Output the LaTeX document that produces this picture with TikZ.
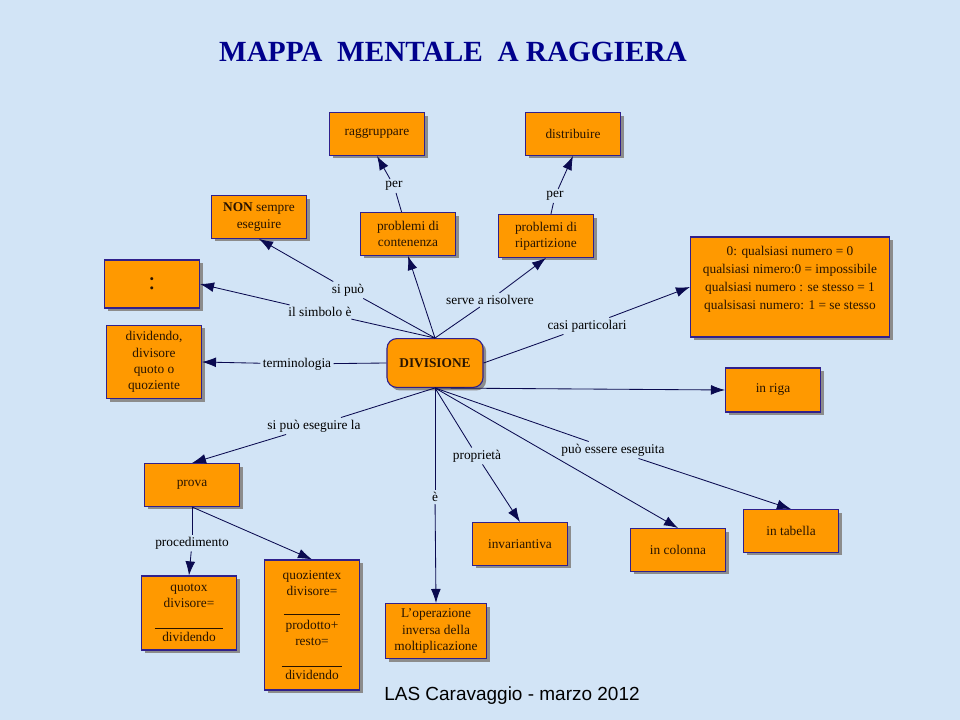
\documentclass[tikz,border=0pt]{standalone}
\usepackage{fontspec}
\setmainfont{Liberation Serif}
\newfontfamily\footfont{Liberation Sans}
\usetikzlibrary{arrows.meta, shadows}
\definecolor{bgblue}{RGB}{210,228,246}
\definecolor{boxorange}{RGB}{255,153,0}
\definecolor{boxborder}{RGB}{48,32,140}
\definecolor{linkblue}{RGB}{10,10,80}
\definecolor{titleblue}{RGB}{0,0,140}
\definecolor{textbrown}{RGB}{40,20,0}

\tikzset{
  concept/.style={draw=boxborder, line width=0.8pt, fill=boxorange, align=center,
    text=textbrown, minimum width=2.37cm, minimum height=1.07cm, inner sep=2pt,
    font=\fontsize{9.5}{11.5}\selectfont,
    drop shadow={shadow xshift=2.2pt, shadow yshift=-2.2pt, fill=black!45, opacity=1}},
  phrase/.style={font=\fontsize{9.5}{11}\selectfont, inner sep=1.5pt, text=black},
  linkline/.style={linkblue, line width=0.6pt},
  linkarrow/.style={linkline, -{Latex[length=10pt,width=7pt]}},
}

\begin{document}
\begin{tikzpicture}[x=0.025cm, y=-0.025cm]
  % Background
  \fill[bgblue] (0,0) rectangle (960,720);

  % Title and footer
  \node[font=\bfseries\fontsize{20.8}{21}\selectfont, text=titleblue] (titolo) at (453,52)
    {MAPPA\ \ MENTALE\ \ A RAGGIERA};
  \node[font=\footfont\fontsize{13.5}{14}\selectfont] (firma) at (512,696)
    {LAS Caravaggio - marzo 2012};

  % Concepts
  \node[concept, minimum width=2.4cm, minimum height=1.22cm, rounded corners=7pt,
        font=\bfseries\fontsize{9.5}{11.5}\selectfont] (divisione) at (435,363) {DIVISIONE};
  \node[concept] (raggruppare) at (377,134) {raggruppare};
  \node[concept] (distribuire) at (573,134) {distribuire};
  \node[concept] (nonsempre) at (259,217) {\textbf{NON} sempre\\eseguire};
  \node[concept] (contenenza) at (408,234) {problemi di\\contenenza};
  \node[concept] (ripartizione) at (546,236) {problemi di\\ripartizione};
  \node[concept, minimum height=1.2cm, font=\fontsize{18}{18}\selectfont] (duepunti) at (152,284) {:};
  \node[concept, minimum height=1.83cm] (termini) at (154,362)
    {dividendo,\\divisore\\quoto o\\quoziente};
  \node[concept, minimum width=4.97cm, minimum height=2.5cm,
        font=\fontsize{9.5}{12.8}\selectfont] (casi) at (790,287)
    {0: qualsiasi numero = 0\\qualsiasi nimero:0 = impossibile\\
     qualsiasi numero : se stesso = 1\\qualsisasi numero: 1 = se stesso\\\mbox{}};
  \node[concept, minimum height=1.1cm] (inriga) at (773,390) {in riga};
  \node[concept] (prova) at (192,485) {prova};
  \node[concept, minimum height=1.85cm] (quoto) at (189,613)
    {quotox\\divisore=\\[3.5pt]\rule{49pt}{0.5pt}\\[-2.3pt]dividendo};
  \node[concept, minimum height=3.25cm] (quozientex) at (312,625)
    {quozientex\\divisore=\\[2.5pt]\rule{40pt}{0.5pt}\\[-1.5pt]prodotto+\\resto=\\[3.5pt]%
     \rule{43pt}{0.5pt}\\[-2.3pt]dividendo};
  \node[concept, minimum width=2.52cm, minimum height=1.37cm] (operazione) at (436,631)
    {L'operazione\\inversa della\\moltiplicazione};
  \node[concept] (invariantiva) at (520,544) {invariantiva};
  \node[concept] (colonna) at (678,550) {in colonna};
  \node[concept] (tabella) at (791,531) {in tabella};

  % Linking phrases
  \node[phrase] (perA) at (394,186) {per};
  \node[phrase] (perB) at (555,196) {per};
  \node[phrase] (sipuo) at (348,290) {si può};
  \node[phrase] (simbolo) at (320,312) {il simbolo è};
  \node[phrase] (serve) at (490,300) {serve a risolvere};
  \node[phrase] (casipart) at (587,326) {casi particolari};
  \node[phrase] (termin) at (297,364) {terminologia};
  \node[phrase] (eseguirela) at (314,426) {si può eseguire la};
  \node[phrase] (proprieta) at (477,456) {proprietà};
  \node[phrase] (essere) at (613,450) {può essere eseguita};
  \node[phrase] (e) at (435,497) {è};
  \node[phrase] (proced) at (192,543) {procedimento};

  % Concept to phrase
  \foreach \a/\b in {contenenza/perA, ripartizione/perB, divisione.north/sipuo,
      divisione.north/simbolo, divisione.north/serve, divisione.east/casipart,
      divisione.west/termin, divisione.south/eseguirela, divisione.south/e,
      divisione.south/proprieta, divisione.south/essere, prova.south/proced}
    \draw[linkline] (\a) -- (\b);

  % Phrase to concept
  \foreach \a/\b in {perA/raggruppare.south, perB/distribuire.south,
      sipuo/nonsempre.south, simbolo/duepunti.east, serve/ripartizione.south,
      casipart/casi.west, termin/termini.east, eseguirela/prova.north,
      e/operazione.north, proprieta/invariantiva.north, essere/tabella.north,
      proced/quoto.north}
    \draw[linkarrow] (\a) -- (\b);

  % Direct links
  \foreach \a/\b in {divisione.north/contenenza.south, divisione.south/inriga.west,
      divisione.south/colonna.north, prova.south/quozientex.north}
    \draw[linkarrow] (\a) -- (\b);
\end{tikzpicture}
\end{document}
